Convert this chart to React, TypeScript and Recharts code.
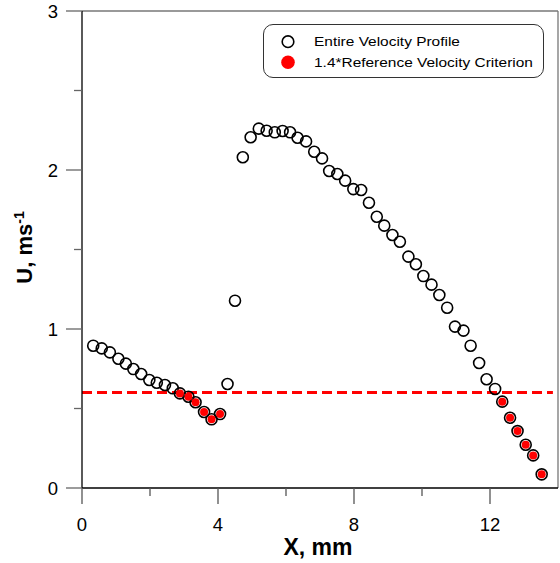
import React from 'react';
import { ScatterChart, Scatter, XAxis, YAxis, ReferenceLine, Legend } from 'recharts';

const profileX = [0.33, 0.58, 0.82, 1.07, 1.29, 1.51, 1.74, 1.98, 2.2, 2.44, 2.67, 2.88, 3.13, 3.34, 3.59, 3.81, 4.06, 4.28, 4.5, 4.73, 4.96, 5.2, 5.43, 5.67, 5.9, 6.12, 6.34, 6.59, 6.83, 7.06, 7.27, 7.51, 7.74, 7.98, 8.21, 8.44, 8.67, 8.89, 9.13, 9.35, 9.6, 9.82, 10.04, 10.28, 10.51, 10.74, 10.97, 11.22, 11.43, 11.68, 11.9, 12.15, 12.36, 12.59, 12.81, 13.05, 13.27, 13.52];
const profileU = [0.895, 0.878, 0.853, 0.813, 0.782, 0.748, 0.717, 0.679, 0.662, 0.648, 0.627, 0.595, 0.574, 0.539, 0.478, 0.432, 0.465, 0.654, 1.178, 2.08, 2.206, 2.26, 2.247, 2.237, 2.245, 2.237, 2.203, 2.18, 2.115, 2.073, 1.994, 1.975, 1.933, 1.88, 1.874, 1.794, 1.706, 1.65, 1.591, 1.549, 1.455, 1.407, 1.333, 1.279, 1.214, 1.134, 1.015, 0.99, 0.895, 0.786, 0.684, 0.623, 0.543, 0.442, 0.358, 0.272, 0.205, 0.086];
const criterionX = [2.88, 3.13, 3.34, 3.59, 3.81, 4.06, 12.36, 12.59, 12.81, 13.05, 13.27, 13.52];
const criterionU = [0.595, 0.574, 0.539, 0.478, 0.432, 0.465, 0.543, 0.442, 0.358, 0.272, 0.205, 0.086];
const thresholdU = 0.6;
const xTicks = [0, 2, 4, 6, 8, 10, 12];
const yTicks = [0, 0.5, 1, 1.5, 2, 2.5, 3];
const seriesNames = ['Entire Velocity Profile', '1.4*Reference Velocity Criterion'];

const profileData = profileX.map((x, i) => ({ x, u: profileU[i] }));
const criterionData = criterionX.map((x, i) => ({ x, u: criterionU[i] }));

const FONT = '"Liberation Sans", Arial, sans-serif';

const XTick = (props: any) => {
  const { x, y, payload } = props;
  const v = payload.value;
  const major = v % 4 === 0;
  return (
    <g>
      <line x1={x} x2={x} y1={y} y2={y + (major ? 16 : 8)} stroke="#555" strokeWidth={1.3} />
      {major && (
        <text x={x} y={y + 43} textAnchor="middle" fontSize={18.5} fill="#000" fontFamily={FONT}>
          {v}
        </text>
      )}
    </g>
  );
};

const YTick = (props: any) => {
  const { x, y, payload } = props;
  const v = payload.value;
  const major = Number.isInteger(v);
  return (
    <g>
      <line x1={x - (major ? 16 : 8)} x2={x} y1={y} y2={y} stroke="#666" strokeWidth={1.3} />
      {major && (
        <text x={x - 24} y={y} dy="0.36em" textAnchor="end" fontSize={18.5} fill="#000" fontFamily={FONT}>
          {v}
        </text>
      )}
    </g>
  );
};

const OpenCircle = (props: any) => (
  <circle cx={props.cx} cy={props.cy} r={5.5} fill="none" stroke="#000" strokeWidth={1.6} />
);
const RedDot = (props: any) => <circle cx={props.cx} cy={props.cy} r={4} fill="#ff0000" />;

const XTitle = (props: any) => {
  const vb = props.viewBox;
  return (
    <text x={vb.x + vb.width / 2 - 2} y={vb.y + 67} textAnchor="middle" fontSize={23} fontWeight="bold" fontFamily={FONT} fill="#000">
      X, mm
    </text>
  );
};

const YTitle = (props: any) => {
  const vb = props.viewBox;
  const cx = vb.x + 32;
  const cy = vb.y + vb.height / 2 - 2;
  return (
    <text transform={`translate(${cx},${cy}) rotate(-90)`} x={0} y={0} textAnchor="middle" fontSize={22} fontWeight="bold" fontFamily={FONT} fill="#000">
      U, ms
      <tspan fontSize={14} dy={-8}>-1</tspan>
    </text>
  );
};

const LegendBox = () => (
  <div
    style={{
      width: 281,
      height: 54,
      border: '1.5px solid #333',
      borderRadius: 10,
      boxSizing: 'border-box',
      position: 'relative',
      background: '#fff',
    }}
  >
    <svg width={281} height={54} style={{ position: 'absolute', left: -1.5, top: -1.5 }}>
      <circle cx={25} cy={17.7} r={5.8} fill="none" stroke="#000" strokeWidth={1.6} />
      <circle cx={25} cy={38.3} r={6.8} fill="#ff0000" />
      <text x={0} y={0} transform="translate(51,22) scale(1.19,1)" fontSize={13} fontFamily={FONT} fill="#000">
        {seriesNames[0]}
      </text>
      <text x={0} y={0} transform="translate(51,42.7) scale(1.19,1)" fontSize={13} fontFamily={FONT} fill="#000">
        {seriesNames[1]}
      </text>
    </svg>
  </div>
);

export default function App() {
  return (
    <div style={{ position: 'absolute', left: 0, top: 0 }}>
      <ScatterChart width={560} height={563} margin={{ top: 11, right: 2, bottom: 0, left: 0 }}>
        <XAxis
          dataKey="x"
          type="number"
          domain={[0, 14]}
          ticks={xTicks}
          interval={0}
          height={75}
          tickSize={0}
          tickMargin={0}
          tickLine={false}
          tick={<XTick />}
          axisLine={{ stroke: '#000', strokeWidth: 1.3 }}
          label={<XTitle />}
        />
        <YAxis
          dataKey="u"
          type="number"
          domain={[0, 3]}
          ticks={yTicks}
          interval={0}
          width={82}
          tickSize={0}
          tickMargin={0}
          tickLine={false}
          tick={<YTick />}
          axisLine={{ stroke: '#000', strokeWidth: 1.3 }}
          label={<YTitle />}
        />
        <ReferenceLine y={3} stroke="#777" strokeWidth={1.3} />
        <ReferenceLine x={14} stroke="#777" strokeWidth={1.3} />
        <ReferenceLine
          segment={[{ x: 0, y: thresholdU }, { x: 13.85, y: thresholdU }]}
          stroke="#ff0000"
          strokeWidth={3}
          strokeDasharray="10 5"
        />
        <Scatter name={seriesNames[0]} data={profileData} shape={<OpenCircle />} isAnimationActive={false} />
        <Scatter name={seriesNames[1]} data={criterionData} shape={<RedDot />} isAnimationActive={false} />
        <Legend
          layout="horizontal"
          verticalAlign="middle"
          align="center"
          content={<LegendBox />}
          wrapperStyle={{ left: 263, top: 24, width: 281, height: 54 }}
        />
      </ScatterChart>
    </div>
  );
}
